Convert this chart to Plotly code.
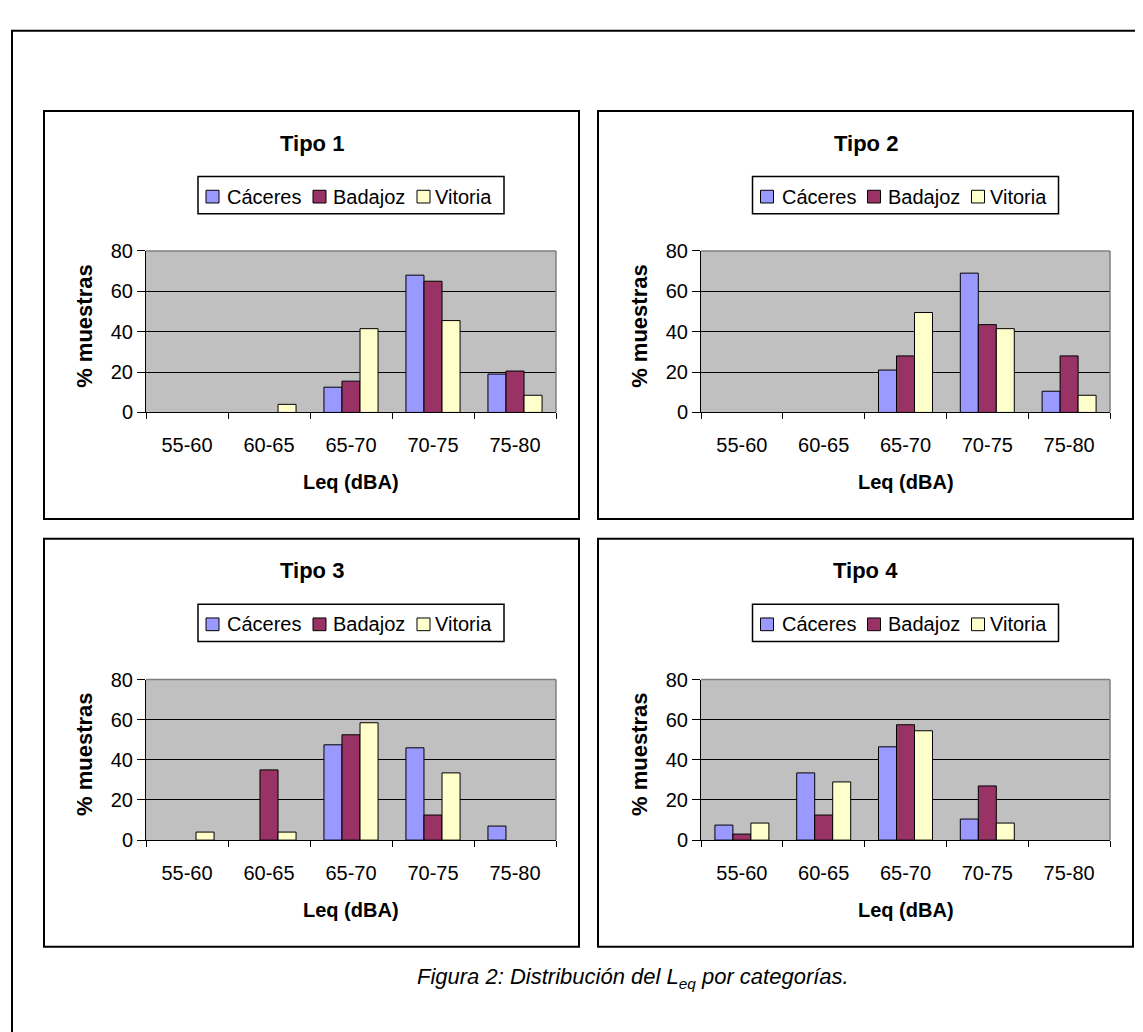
import plotly.graph_objects as go

# ---------------- data ----------------
categories = ["55-60", "60-65", "65-70", "70-75", "75-80"]
series_names = ["Cáceres", "Badajoz", "Vitoria"]
series_colors = ["#9999FF", "#993366", "#FFFFCC"]
panel_titles = ["Tipo 1", "Tipo 2", "Tipo 3", "Tipo 4"]
y_ticks = [0, 20, 40, 60, 80]

tipo1_caceres = [0, 0, 12.5, 68, 19]
tipo1_badajoz = [0, 0, 15.5, 65, 20.5]
tipo1_vitoria = [0, 4, 41.5, 45.5, 8.5]

tipo2_caceres = [0, 0, 21, 69, 10.5]
tipo2_badajoz = [0, 0, 28, 43.5, 28]
tipo2_vitoria = [0, 0, 49.5, 41.5, 8.5]

tipo3_caceres = [0, 0, 47.5, 46, 7]
tipo3_badajoz = [0, 35, 52.5, 12.5, 0]
tipo3_vitoria = [4, 4, 58.5, 33.5, 0]

tipo4_caceres = [7.5, 33.5, 46.5, 10.5, 0]
tipo4_badajoz = [3, 12.5, 57.5, 27, 0]
tipo4_vitoria = [8.5, 29, 54.5, 8.5, 0]

panel_data = [
    [tipo1_caceres, tipo1_badajoz, tipo1_vitoria],
    [tipo2_caceres, tipo2_badajoz, tipo2_vitoria],
    [tipo3_caceres, tipo3_badajoz, tipo3_vitoria],
    [tipo4_caceres, tipo4_badajoz, tipo4_vitoria],
]

# ---------------- layout geometry (pixels) ----------------
W, H = 1143, 1032
FONT = "Liberation Sans, Arial, sans-serif"

def px(x):
    return x / W

def py(y):
    return 1 - y / H

panel_boxes = [(36, 94, 571, 511), (590, 94, 1125, 511),
               (36, 531, 571, 948), (590, 531, 1125, 948)]
plot_boxes = [(138, 237, 548, 402), (693, 237, 1102, 402),
              (138, 675, 548, 839), (693, 675, 1102, 839)]
legend_sq_off = [8, 115, 219]
legend_tx_off = [28, 134, 236]

fig = go.Figure()
shapes = []
annotations = []
layout_axes = {}

# outer frame
shapes.append(dict(type="rect", xref="paper", yref="paper",
                   x0=px(4), y0=py(12), x1=1.05, y1=-0.05,
                   line=dict(color="black", width=2), fillcolor="rgba(0,0,0,0)", layer="below"))

for i in range(4):
    n = i + 1
    sfx = "" if n == 1 else str(n)
    px0, py0, px1, py1 = panel_boxes[i]
    ax0, ay0, ax1, ay1 = plot_boxes[i]

    for s in range(3):
        vals = panel_data[i][s]
        fig.add_trace(go.Bar(
            x=categories, y=vals, name=series_names[s],
            marker=dict(color=series_colors[s],
                        line=dict(color="black", width=[1 if v > 0 else 0 for v in vals])),
            xaxis="x" + sfx, yaxis="y" + sfx, showlegend=False,
            hovertemplate=series_names[s] + " %{x}: %{y}<extra></extra>"))

    layout_axes["xaxis" + sfx] = dict(
        domain=[px(ax0), px(ax1)], anchor="y" + sfx, type="category",
        categoryorder="array", categoryarray=categories,
        tickson="boundaries", ticks="outside", ticklen=6, tickcolor="black",
        showline=True, linecolor="black", linewidth=1, showgrid=False,
        tickfont=dict(family=FONT, size=20, color="black"), ticklabelstandoff=15,
        fixedrange=True)
    layout_axes["yaxis" + sfx] = dict(
        domain=[py(ay1), py(ay0)], anchor="x" + sfx, range=[0, 80],
        tickmode="array", tickvals=y_ticks, ticks="outside", ticklen=8, tickcolor="black",
        showline=True, linecolor="black", linewidth=1, showgrid=True,
        gridcolor="black", gridwidth=1, zeroline=False,
        tickfont=dict(family=FONT, size=20, color="black"), fixedrange=True)

    # panel frame (no fill so the grey plot background stays visible)
    shapes.append(dict(type="rect", xref="paper", yref="paper",
                       x0=px(px0), y0=py(py1), x1=px(px1), y1=py(py0),
                       line=dict(color="black", width=2), fillcolor="rgba(0,0,0,0)", layer="below"))
    # plot-area top/right border (grey)
    shapes.append(dict(type="line", xref="x" + sfx + " domain", yref="y" + sfx + " domain",
                       x0=0, y0=1, x1=1, y1=1, line=dict(color="#808080", width=1.5), layer="above"))
    shapes.append(dict(type="line", xref="x" + sfx + " domain", yref="y" + sfx + " domain",
                       x0=1, y0=0, x1=1, y1=1, line=dict(color="#808080", width=1.5), layer="above"))

    # title
    annotations.append(dict(text="<b>" + panel_titles[i] + "</b>", xref="paper", yref="paper",
                            x=px((px0 + px1) / 2), y=py(py0 + 33), showarrow=False,
                            xanchor="center", yanchor="middle",
                            font=dict(family=FONT, size=22, color="black")))
    # axis titles
    annotations.append(dict(text="<b>Leq (dBA)</b>", xref="paper", yref="paper",
                            x=px((ax0 + ax1) / 2), y=py(ay1 + 71), showarrow=False,
                            xanchor="center", yanchor="middle",
                            font=dict(family=FONT, size=20, color="black")))
    annotations.append(dict(text="<b>% muestras</b>", xref="paper", yref="paper",
                            x=px(ax0 - 61), y=py((ay0 + ay1) / 2 - 6), showarrow=False,
                            textangle=-90, xanchor="center", yanchor="middle",
                            font=dict(family=FONT, size=22, color="black")))

    # legend box
    cx = (ax0 + ax1) / 2
    lx0, lx1 = cx - 153, cx + 153
    ly0, ly1 = py0 + 67, py0 + 105
    lyc = py0 + 87.5
    shapes.append(dict(type="rect", xref="paper", yref="paper",
                       x0=px(lx0), y0=py(ly1), x1=px(lx1), y1=py(ly0),
                       line=dict(color="black", width=1.5), fillcolor="white", layer="above"))
    for s in range(3):
        sx = lx0 + legend_sq_off[s]
        shapes.append(dict(type="rect", xref="paper", yref="paper",
                           x0=px(sx), y0=py(lyc + 6.5), x1=px(sx + 13), y1=py(lyc - 6.5),
                           line=dict(color="black", width=1), fillcolor=series_colors[s], layer="above"))
        annotations.append(dict(text=series_names[s], xref="paper", yref="paper",
                                x=px(lx0 + legend_tx_off[s]), y=py(lyc), showarrow=False,
                                xanchor="left", yanchor="middle", borderpad=0,
                                font=dict(family=FONT, size=20, color="black")))

# caption
annotations.append(dict(text="<i>Figura 2: Distribución del L<sub>eq</sub> por categorías.</i>",
                        xref="paper", yref="paper", x=px(625), y=py(980), showarrow=False,
                        xanchor="center", yanchor="middle",
                        font=dict(family=FONT, size=22, color="black")))

fig.update_layout(
    width=W, height=H, margin=dict(l=0, r=0, t=0, b=0),
    paper_bgcolor="white", plot_bgcolor="#C0C0C0",
    barmode="group", bargap=0.34, bargroupgap=0,
    shapes=shapes, annotations=annotations,
    font=dict(family=FONT, color="black"),
    **layout_axes)

fig.write_html("out.html", config={"displayModeBar": False})
